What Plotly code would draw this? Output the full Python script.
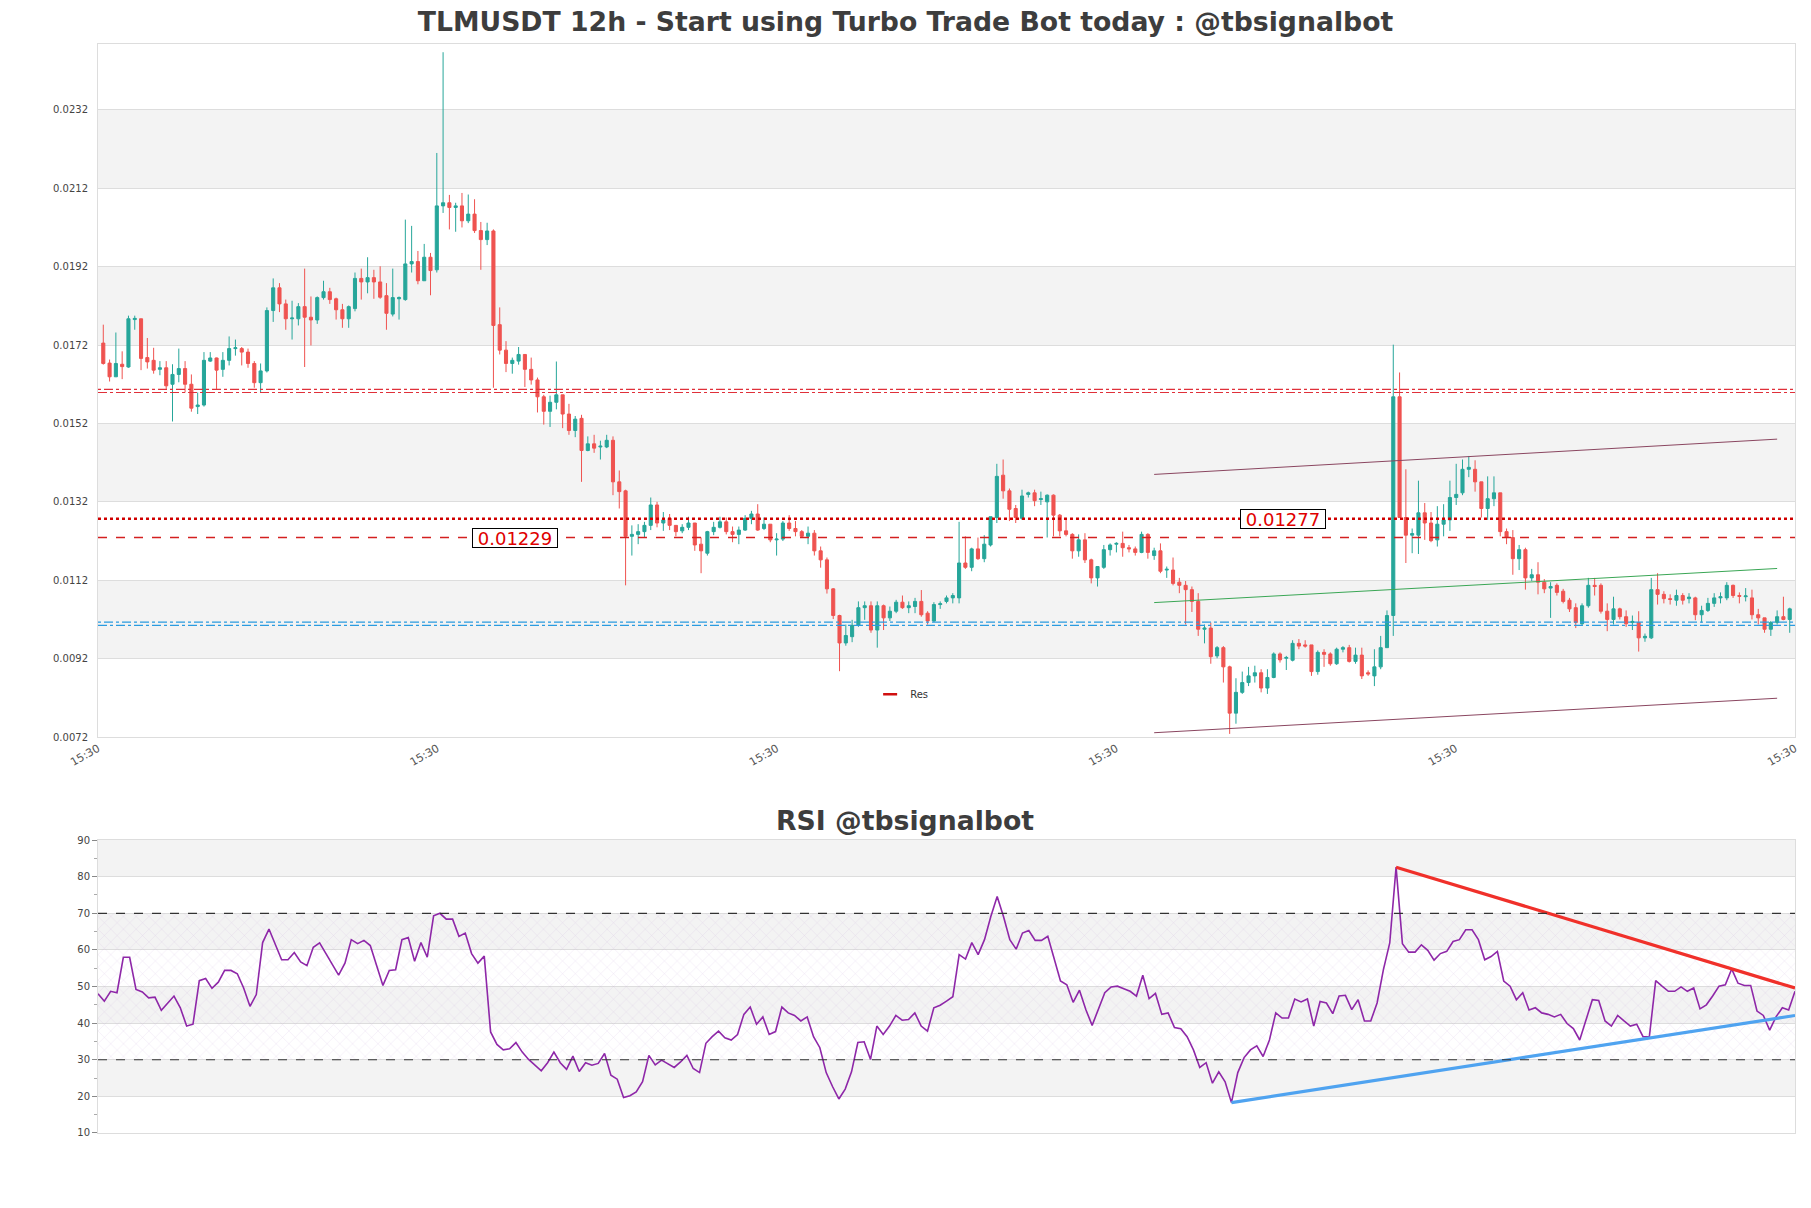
import plotly.graph_objects as go

# ---------------- DATA ----------------
open_ = [0.01725,0.01674,0.01639,0.01671,0.01664,0.01785,0.01787,0.01688,0.01681,0.01658,
         0.01662,0.01620,0.01645,0.01660,0.01620,0.01563,0.01567,0.01679,0.01687,0.01658,
         0.01681,0.01711,0.01711,0.01702,0.01673,0.01624,0.01654,0.01808,0.01866,0.01825,
         0.01787,0.01787,0.01818,0.01791,0.01784,0.01841,0.01856,0.01838,0.01810,0.01787,
         0.01813,0.01890,0.01881,0.01892,0.01881,0.01846,0.01799,0.01838,0.01836,0.01927,
         0.01933,0.01884,0.01944,0.01912,0.02075,0.02083,0.02071,0.02075,0.02037,0.02054,
         0.02012,0.01989,0.02011,0.01772,0.01707,0.01673,0.01679,0.01696,0.01658,0.01631,
         0.01588,0.01551,0.01574,0.01593,0.01544,0.01502,0.01533,0.01451,0.01468,0.01460,
         0.01460,0.01477,0.01371,0.01348,0.01232,0.01237,0.01244,0.01260,0.01312,0.01266,
         0.01278,0.01260,0.01246,0.01255,0.01266,0.01212,0.01189,0.01244,0.01255,0.01269,
         0.01244,0.01237,0.01248,0.01278,0.01289,0.01252,0.01263,0.01223,0.01225,0.01266,
         0.01252,0.01244,0.01232,0.01240,0.01195,0.01172,0.01098,0.01030,0.00960,0.00976,
         0.01005,0.01050,0.01055,0.00993,0.01055,0.01024,0.01041,0.01064,0.01050,0.01053,
         0.01066,0.01036,0.01016,0.01058,0.01066,0.01075,0.01075,0.01164,0.01153,0.01200,
         0.01175,0.01210,0.01280,0.01388,0.01348,0.01303,0.01278,0.01339,0.01343,0.01326,
         0.01320,0.01337,0.01286,0.01246,0.01237,0.01195,0.01223,0.01172,0.01126,0.01153,
         0.01198,0.01212,0.01214,0.01203,0.01200,0.01191,0.01237,0.01183,0.01195,0.01146,
         0.01146,0.01115,0.01107,0.01096,0.01066,0.00995,0.00998,0.00927,0.00948,0.00899,
         0.00781,0.00834,0.00859,0.00876,0.00884,0.00845,0.00872,0.00932,0.00921,0.00916,
         0.00959,0.00955,0.00955,0.00887,0.00936,0.00932,0.00907,0.00944,0.00948,0.00913,
         0.00929,0.00884,0.00876,0.00899,0.00948,0.01030,0.01588,0.01280,0.01235,0.01235,
         0.01292,0.01266,0.01223,0.01263,0.01274,0.01331,0.01343,0.01403,0.01403,0.01371,
         0.01303,0.01328,0.01343,0.01244,0.01229,0.01175,0.01198,0.01126,0.01134,0.01115,
         0.01100,0.01107,0.01092,0.01069,0.01050,0.01009,0.01055,0.01107,0.01107,0.01041,
         0.01020,0.01047,0.01027,0.01012,0.01012,0.00973,0.00973,0.01096,0.01084,0.01073,
         0.01069,0.01081,0.01073,0.01075,0.01032,0.01043,0.01061,0.01075,0.01075,0.01107,
         0.01081,0.01078,0.01075,0.01032,0.01024,0.00995,0.01012,0.01027,0.01020]
high = [0.01772,0.01683,0.01752,0.01704,0.01795,0.01795,0.01787,0.01738,0.01713,0.01679,
        0.01679,0.01671,0.01711,0.01679,0.01645,0.01599,0.01702,0.01702,0.01688,0.01702,
        0.01742,0.01734,0.01715,0.01711,0.01679,0.01673,0.01816,0.01890,0.01878,0.01836,
        0.01833,0.01827,0.01915,0.01844,0.01844,0.01884,0.01866,0.01841,0.01825,0.01821,
        0.01905,0.01915,0.01944,0.01912,0.01921,0.01878,0.01915,0.01844,0.02040,0.02024,
        0.01960,0.01978,0.01955,0.02210,0.02467,0.02103,0.02083,0.02108,0.02104,0.02092,
        0.02034,0.02032,0.02015,0.01816,0.01730,0.01688,0.01715,0.01696,0.01688,0.01637,
        0.01593,0.01591,0.01678,0.01593,0.01570,0.01539,0.01542,0.01487,0.01491,0.01476,
        0.01491,0.01487,0.01400,0.01351,0.01260,0.01263,0.01269,0.01331,0.01320,0.01294,
        0.01289,0.01260,0.01263,0.01282,0.01266,0.01229,0.01246,0.01269,0.01282,0.01280,
        0.01257,0.01257,0.01286,0.01297,0.01314,0.01280,0.01263,0.01240,0.01271,0.01286,
        0.01271,0.01248,0.01257,0.01248,0.01206,0.01178,0.01100,0.01032,0.01007,0.01019,
        0.01066,0.01066,0.01066,0.01066,0.01058,0.01053,0.01070,0.01081,0.01066,0.01075,
        0.01095,0.01041,0.01064,0.01066,0.01081,0.01087,0.01269,0.01232,0.01203,0.01229,
        0.01235,0.01282,0.01417,0.01428,0.01354,0.01312,0.01351,0.01346,0.01351,0.01346,
        0.01339,0.01339,0.01289,0.01278,0.01240,0.01237,0.01240,0.01175,0.01155,0.01210,
        0.01214,0.01217,0.01244,0.01210,0.01206,0.01244,0.01240,0.01203,0.01214,0.01155,
        0.01178,0.01126,0.01118,0.01104,0.01087,0.01007,0.01012,0.00952,0.00952,0.00902,
        0.00870,0.00887,0.00899,0.00902,0.00893,0.00893,0.00936,0.00936,0.00927,0.00967,
        0.00970,0.00967,0.00955,0.00941,0.00944,0.00936,0.00948,0.00952,0.00955,0.00948,
        0.00948,0.00890,0.00944,0.00978,0.01043,0.01721,0.01650,0.01403,0.01252,0.01374,
        0.01317,0.01294,0.01309,0.01314,0.01374,0.01417,0.01428,0.01437,0.01426,0.01371,
        0.01385,0.01385,0.01343,0.01252,0.01248,0.01210,0.01203,0.01149,0.01166,0.01123,
        0.01115,0.01112,0.01098,0.01075,0.01061,0.01061,0.01126,0.01126,0.01112,0.01061,
        0.01078,0.01050,0.01043,0.01030,0.01041,0.00984,0.01126,0.01138,0.01092,0.01084,
        0.01096,0.01087,0.01087,0.01078,0.01055,0.01075,0.01087,0.01089,0.01115,0.01109,
        0.01089,0.01100,0.01096,0.01047,0.01024,0.01016,0.01043,0.01078,0.01050]
low = [0.01670,0.01627,0.01639,0.01633,0.01662,0.01759,0.01656,0.01660,0.01647,0.01643,
       0.01608,0.01525,0.01625,0.01599,0.01550,0.01544,0.01563,0.01677,0.01608,0.01639,
       0.01668,0.01693,0.01668,0.01662,0.01611,0.01599,0.01650,0.01779,0.01804,0.01759,
       0.01734,0.01770,0.01664,0.01719,0.01774,0.01836,0.01825,0.01785,0.01764,0.01764,
       0.01806,0.01836,0.01852,0.01838,0.01838,0.01759,0.01793,0.01785,0.01833,0.01905,
       0.01875,0.01884,0.01847,0.01905,0.02057,0.02015,0.02009,0.02020,0.02031,0.02006,
       0.01912,0.01975,0.01611,0.01696,0.01651,0.01647,0.01670,0.01613,0.01619,0.01548,
       0.01517,0.01511,0.01556,0.01508,0.01491,0.01485,0.01371,0.01449,0.01445,0.01428,
       0.01457,0.01337,0.01303,0.01107,0.01183,0.01212,0.01229,0.01248,0.01255,0.01246,
       0.01248,0.01232,0.01240,0.01248,0.01195,0.01138,0.01183,0.01235,0.01252,0.01237,
       0.01217,0.01212,0.01246,0.01263,0.01246,0.01248,0.01217,0.01183,0.01220,0.01246,
       0.01232,0.01229,0.01212,0.01183,0.01152,0.01086,0.01021,0.00888,0.00953,0.00962,
       0.01001,0.01019,0.00986,0.00948,0.00993,0.01016,0.01036,0.01047,0.01036,0.01036,
       0.01027,0.01007,0.01013,0.01047,0.01061,0.01061,0.01061,0.01149,0.01143,0.01172,
       0.01166,0.01206,0.01266,0.01328,0.01271,0.01266,0.01274,0.01331,0.01309,0.01312,
       0.01229,0.01232,0.01232,0.01232,0.01175,0.01180,0.01164,0.01112,0.01104,0.01149,
       0.01183,0.01191,0.01180,0.01191,0.01183,0.01189,0.01175,0.01172,0.01138,0.01126,
       0.01107,0.01087,0.01007,0.01039,0.00978,0.00959,0.00907,0.00921,0.00859,0.00728,
       0.00754,0.00830,0.00850,0.00859,0.00834,0.00830,0.00870,0.00910,0.00891,0.00913,
       0.00944,0.00948,0.00876,0.00879,0.00899,0.00902,0.00904,0.00936,0.00910,0.00907,
       0.00868,0.00876,0.00850,0.00893,0.00978,0.00978,0.01280,0.01164,0.01189,0.01187,
       0.01223,0.01217,0.01206,0.01232,0.01246,0.01312,0.01337,0.01383,0.01346,0.01280,
       0.01274,0.01309,0.01232,0.01212,0.01134,0.01146,0.01096,0.01118,0.01084,0.01087,
       0.01024,0.01081,0.01061,0.01039,0.00998,0.01004,0.01050,0.01081,0.01035,0.00990,
       0.01007,0.01020,0.01001,0.00993,0.00938,0.00963,0.00970,0.01058,0.01061,0.01058,
       0.01055,0.01058,0.01061,0.01018,0.01012,0.01039,0.01052,0.01061,0.01069,0.01075,
       0.01061,0.01066,0.01020,0.01007,0.00986,0.00978,0.01007,0.01018,0.00986]
close = [0.01673,0.01639,0.01673,0.01665,0.01787,0.01788,0.01686,0.01677,0.01656,0.01662,
         0.01616,0.01645,0.01660,0.01620,0.01559,0.01567,0.01681,0.01687,0.01656,0.01681,
         0.01711,0.01713,0.01702,0.01673,0.01624,0.01654,0.01808,0.01866,0.01825,0.01787,
         0.01789,0.01818,0.01791,0.01784,0.01841,0.01856,0.01836,0.01810,0.01787,0.01818,
         0.01890,0.01881,0.01892,0.01881,0.01842,0.01801,0.01841,0.01841,0.01927,0.01933,
         0.01884,0.01944,0.01910,0.02075,0.02083,0.02071,0.02075,0.02037,0.02054,0.02012,
         0.01989,0.02011,0.01770,0.01707,0.01673,0.01681,0.01696,0.01658,0.01631,0.01588,
         0.01551,0.01574,0.01593,0.01544,0.01502,0.01531,0.01451,0.01468,0.01457,0.01462,
         0.01477,0.01371,0.01346,0.01232,0.01237,0.01244,0.01260,0.01312,0.01266,0.01274,
         0.01260,0.01244,0.01255,0.01266,0.01210,0.01195,0.01244,0.01255,0.01269,0.01244,
         0.01237,0.01248,0.01278,0.01289,0.01248,0.01263,0.01223,0.01225,0.01266,0.01252,
         0.01244,0.01232,0.01240,0.01195,0.01172,0.01098,0.01030,0.00960,0.00979,0.01005,
         0.01050,0.01055,0.00993,0.01055,0.01024,0.01041,0.01064,0.01050,0.01055,0.01066,
         0.01032,0.01016,0.01058,0.01060,0.01075,0.01081,0.01164,0.01153,0.01200,0.01175,
         0.01212,0.01282,0.01385,0.01348,0.01301,0.01280,0.01335,0.01343,0.01323,0.01328,
         0.01337,0.01286,0.01246,0.01237,0.01195,0.01223,0.01172,0.01126,0.01155,0.01198,
         0.01210,0.01214,0.01203,0.01200,0.01191,0.01237,0.01191,0.01195,0.01143,0.01148,
         0.01112,0.01107,0.01096,0.01066,0.00995,0.00998,0.00925,0.00948,0.00899,0.00781,
         0.00834,0.00859,0.00876,0.00884,0.00845,0.00872,0.00932,0.00917,0.00923,0.00959,
         0.00952,0.00952,0.00887,0.00936,0.00931,0.00907,0.00944,0.00948,0.00913,0.00929,
         0.00876,0.00881,0.00899,0.00948,0.01030,0.01588,0.01280,0.01235,0.01239,0.01292,
         0.01266,0.01221,0.01263,0.01274,0.01331,0.01339,0.01403,0.01408,0.01371,0.01303,
         0.01328,0.01343,0.01244,0.01229,0.01175,0.01198,0.01126,0.01134,0.01115,0.01098,
         0.01104,0.01089,0.01066,0.01047,0.01012,0.01055,0.01107,0.01104,0.01041,0.01020,
         0.01047,0.01027,0.01009,0.01015,0.00973,0.00977,0.01096,0.01084,0.01073,0.01071,
         0.01081,0.01069,0.01077,0.01032,0.01043,0.01061,0.01075,0.01078,0.01107,0.01081,
         0.01079,0.01080,0.01032,0.01024,0.00995,0.01012,0.01027,0.01020,0.01047]

rsi = [48, 46, 48.7, 48.3, 58, 58, 49.2, 48.5, 46.9, 47.1,
       43.5, 45.6, 47.4, 44.2, 39.2, 39.7, 51.6, 52.2, 49.5, 51.2,
       54.4, 54.4, 53.5, 49.6, 44.6, 47.8, 62, 65.7, 61.4, 57.3,
       57.3, 59.3, 56.7, 55.7, 60.7, 61.9, 59, 56, 53.1, 56.4,
       62.8, 61.7, 62.6, 61.2, 56, 50.3, 54.4, 54.6, 62.8, 63.4,
       56.9, 62, 58, 69.3, 70, 68.4, 68.4, 63.7, 64.6, 59,
       56.4, 58.3, 37.6, 34.2, 32.7, 33, 34.7, 32.1, 30.1, 28.5,
       27, 29.2, 32.1, 29.2, 27.4, 31, 26.8, 29.2, 28.5, 29,
       31.7, 25.8, 24.7, 19.7, 20.2, 21.2, 24, 31.2, 28.6, 29.9,
       28.8, 27.9, 29.4, 31.2, 27.6, 26.5, 34.5, 36.3, 37.8, 36,
       35.4, 36.9, 42.4, 44.4, 39.7, 41.7, 36.9, 37.7, 44.4, 42.8,
       42.1, 40.6, 41.7, 36.3, 33.3, 26.5, 22.7, 19.3, 22, 26.7,
       34.7, 34.9, 30.1, 39.2, 36.9, 39.2, 42.1,
       40.8, 41, 42.8, 39.2, 37.8, 44.2, 44.9, 46, 47.2, 58.7,
       57.5, 62, 58.7, 62.8, 69.1, 74.6, 69.1, 62.8, 60.2, 64.6,
       65.3, 62.6, 62.6, 63.7, 57.3, 51.5, 50.5, 45.7, 49, 43.7,
       39.4, 43.7, 48.3, 49.9, 50.1, 49.4, 48.7, 47.4, 53.1, 46.7,
       48.1, 42.4, 42.8, 38.8, 38.5, 36.3, 32.7, 27.9, 29.2, 23.6,
       26.7, 24, 18.3, 26.5, 30.6, 32.7, 33.8, 30.9, 35.4, 42.8,
       41.4, 41.4, 46.6, 45.8, 46.6, 39.2, 45.9, 45.5, 42.6, 47.4,
       47.6, 43.7, 46.4, 40.6, 40.6, 45.5, 54.6, 61.9, 82.6, 61.7,
       59.4, 59.4, 61.4, 59.9, 57.2, 59, 59.6, 62.3, 62.8, 65.5,
       65.5, 62.8, 57.3, 58.2, 59.6, 51.5, 50.1, 46.4, 48.3, 43.6,
       44.2, 42.8, 42.4, 41.7, 42.4, 39.9, 38.5, 35.4, 41, 46.4,
       46.2, 40.6, 39.2, 42.1, 40.6, 39.2, 39.7, 36.3, 36.3, 51.6,
       50.1, 48.7, 48.7, 49.9, 48.7, 49.6, 43.9, 45, 47.4, 50.1,
       50.5, 54.8, 50.9, 50.3, 50.3, 43.3, 42.1, 38.1, 41.7, 44.2,
       43.6, 48.7]

N = len(close)
x_idx = list(range(N))

x_tick_labels = ["15:30", "15:30", "15:30", "15:30", "15:30", "15:30"]
price_ticks = [0.0072, 0.0092, 0.0112, 0.0132, 0.0152, 0.0172, 0.0192, 0.0212, 0.0232]
rsi_ticks = [10, 20, 30, 40, 50, 60, 70, 80, 90]

# horizontal levels
res_zone = 0.01603      # red double dashed level
sup_zone = 0.01009      # blue double dashed level
res_level = 0.01277     # red dotted level
res_level2 = 0.01229    # red dashed level
res_label_idx = 187.4
res2_label_idx = 65.5

# channel
channel_x = [167, 266]
channel_upper = [0.01390, 0.01480]
channel_mid = [0.01063, 0.01150]
channel_lower = [0.00731, 0.00819]

# RSI trendlines
rsi_res_x = [205, 268]
rsi_res_y = [82.6, 49.6]
rsi_sup_x = [179, 268]
rsi_sup_y = [18.3, 42.1]

# ---------------- FIGURE ----------------
X0, X1 = -0.84, N - 1 + 0.84
tickvals_x = [X0 + k * (X1 - X0) / 5 for k in range(6)]

fig = go.Figure()

fig.add_trace(go.Candlestick(
    x=x_idx, open=open_, high=high, low=low, close=close,
    increasing=dict(line=dict(color="#26a69a", width=1), fillcolor="#26a69a"),
    decreasing=dict(line=dict(color="#ef5350", width=1), fillcolor="#ef5350"),
    whiskerwidth=0, showlegend=False, xaxis="x", yaxis="y", hoverinfo="skip"))

chan_col = "#8a4660"
fig.add_trace(go.Scatter(x=channel_x, y=channel_upper, mode="lines",
                         line=dict(color=chan_col, width=1), showlegend=False, hoverinfo="skip"))
fig.add_trace(go.Scatter(x=channel_x, y=channel_lower, mode="lines",
                         line=dict(color=chan_col, width=1), showlegend=False, hoverinfo="skip"))
fig.add_trace(go.Scatter(x=channel_x, y=channel_mid, mode="lines",
                         line=dict(color="#3aa655", width=1), showlegend=False, hoverinfo="skip"))

# legend entry
fig.add_trace(go.Scatter(x=[None], y=[None], mode="markers", name="Res",
                         marker=dict(symbol="line-ew", size=10, color="#d01010",
                                     line=dict(color="#d01010", width=2.5)),
                         showlegend=True))

# RSI hatch zone
fig.add_trace(go.Scatter(x=[0, N - 1, N - 1, 0, 0], y=[30, 30, 70, 70, 30],
                         mode="lines", fill="toself", fillcolor="rgba(0,0,0,0)",
                         fillpattern=dict(shape="x", fgcolor="rgba(180,140,205,0.75)",
                                          size=9, solidity=0.07),
                         line=dict(width=0), xaxis="x2", yaxis="y2",
                         showlegend=False, hoverinfo="skip"))

fig.add_trace(go.Scatter(x=x_idx, y=rsi, mode="lines",
                         line=dict(color="#8e27a8", width=1.6),
                         xaxis="x2", yaxis="y2", showlegend=False, hoverinfo="skip"))
fig.add_trace(go.Scatter(x=rsi_res_x, y=rsi_res_y, mode="lines",
                         line=dict(color="#f0302a", width=3.2),
                         xaxis="x2", yaxis="y2", showlegend=False, hoverinfo="skip"))
fig.add_trace(go.Scatter(x=rsi_sup_x, y=rsi_sup_y, mode="lines",
                         line=dict(color="#4fa3f0", width=3.2),
                         xaxis="x2", yaxis="y2", showlegend=False, hoverinfo="skip"))

shapes = []
# main gray bands
for lo, hi in [(price_ticks[1], price_ticks[2]), (price_ticks[3], price_ticks[4]),
               (price_ticks[5], price_ticks[6]), (price_ticks[7], price_ticks[8])]:
    shapes.append(dict(type="rect", xref="x domain", yref="y", x0=0, x1=1, y0=lo, y1=hi,
                       fillcolor="#f3f3f3", line=dict(width=0), layer="below"))
# RSI gray bands
for lo, hi in [(20, 30), (40, 50), (60, 70), (80, 90)]:
    shapes.append(dict(type="rect", xref="x2 domain", yref="y2", x0=0, x1=1, y0=lo, y1=hi,
                       fillcolor="#f3f3f3", line=dict(width=0), layer="below"))
# level lines (double dashed ladders)
for lvl, col in [(res_zone, "#e0303a"), (sup_zone, "#2a9be0")]:
    for off, dsh in ((-0.00004, "9px,3px,3px,3px"), (0.00004, "3px,3px,9px,3px")):
        shapes.append(dict(type="line", xref="x domain", yref="y", x0=0, x1=1,
                           y0=lvl + off, y1=lvl + off,
                           line=dict(color=col, width=1.2, dash=dsh)))
shapes.append(dict(type="line", xref="x domain", yref="y", x0=0, x1=1, y0=res_level, y1=res_level,
                   line=dict(color="#d00000", width=2.6, dash="dot")))
shapes.append(dict(type="line", xref="x domain", yref="y", x0=0, x1=1, y0=res_level2, y1=res_level2,
                   line=dict(color="#d42020", width=1.3, dash="dash")))
# RSI 70 / 30
for lvl in (70, 30):
    shapes.append(dict(type="line", xref="x2 domain", yref="y2", x0=0, x1=1, y0=lvl, y1=lvl,
                       line=dict(color="#333333", width=1.2, dash="dash")))

annotations = [
    dict(x=res2_label_idx, y=res_level2, xref="x", yref="y", text=f"{res_level2:.5f}",
         showarrow=False, font=dict(size=18, color="#e00000"), bgcolor="white",
         bordercolor="black", borderwidth=1, borderpad=1, width=82, height=16),
    dict(x=res_label_idx, y=res_level, xref="x", yref="y", text=f"{res_level:.5f}",
         showarrow=False, font=dict(size=18, color="#e00000"), bgcolor="white",
         bordercolor="black", borderwidth=1, borderpad=1, width=82, height=16),
    dict(x=0.4756, y=0.2874, xref="paper", yref="paper", text="RSI @tbsignalbot",
         showarrow=False, xanchor="center", yanchor="middle",
         font=dict(size=26.7, color="#3d3d3d", family="DejaVu Sans", weight="bold")),
]

fig.update_layout(
    width=1811, height=1208,
    paper_bgcolor="white", plot_bgcolor="white",
    margin=dict(l=98, r=14, t=44, b=75),
    font=dict(family="DejaVu Sans", size=10, color="#444444"),
    title=dict(text="TLMUSDT 12h - Start using Turbo Trade Bot today : @tbsignalbot",
               x=0.5, xref="container", xanchor="center",
               y=1 - 22 / 1208, yref="container", yanchor="middle",
               font=dict(size=26.7, color="#3d3d3d", family="DejaVu Sans", weight="bold")),
    showlegend=True,
    legend=dict(x=0.455, y=0.403, xanchor="left", yanchor="middle",
                bgcolor="rgba(0,0,0,0)", font=dict(size=10, color="#333333"),
                itemwidth=30),
    xaxis=dict(domain=[0, 1], anchor="y", range=[X0, X1], tickmode="array",
               tickvals=tickvals_x, ticktext=x_tick_labels, tickangle=-30,
               tickfont=dict(size=11, color="#555555"), showgrid=False, zeroline=False,
               showline=True, linecolor="#dddddd", mirror=True, ticks="",
               rangeslider=dict(visible=False)),
    yaxis=dict(domain=[0.3636, 1], anchor="x", range=[0.0072, 0.02488], tickmode="array",
               tickvals=price_ticks, ticktext=[f"{v:.4f}" for v in price_ticks],
               tickfont=dict(size=10, color="#444444"), showgrid=True, gridcolor="#dddddd",
               zeroline=False, showline=True, linecolor="#dddddd", mirror=True,
               ticks="", ticklabelstandoff=7),
    xaxis2=dict(domain=[0, 1], anchor="y2", range=[0, N - 1], showticklabels=False,
                showgrid=False, zeroline=False, showline=True, linecolor="#dddddd",
                mirror=True, ticks=""),
    yaxis2=dict(domain=[0, 0.269], anchor="x2", range=[10, 90], tickmode="array",
                tickvals=rsi_ticks, ticktext=[str(v) for v in rsi_ticks],
                tickfont=dict(size=10, color="#444444"), showgrid=True, gridcolor="#dddddd",
                zeroline=False, showline=True, linecolor="#dddddd", mirror=True,
                ticks="outside", ticklen=5, tickcolor="#888888",
                minor=dict(tickmode="linear", tick0=5, dtick=10, ticks="outside",
                           ticklen=3, tickcolor="#aaaaaa", showgrid=False)),
    shapes=shapes, annotations=annotations,
)

fig.write_html("out.html", config={"displayModeBar": False},
               post_script="document.body.style.margin='0px';")
